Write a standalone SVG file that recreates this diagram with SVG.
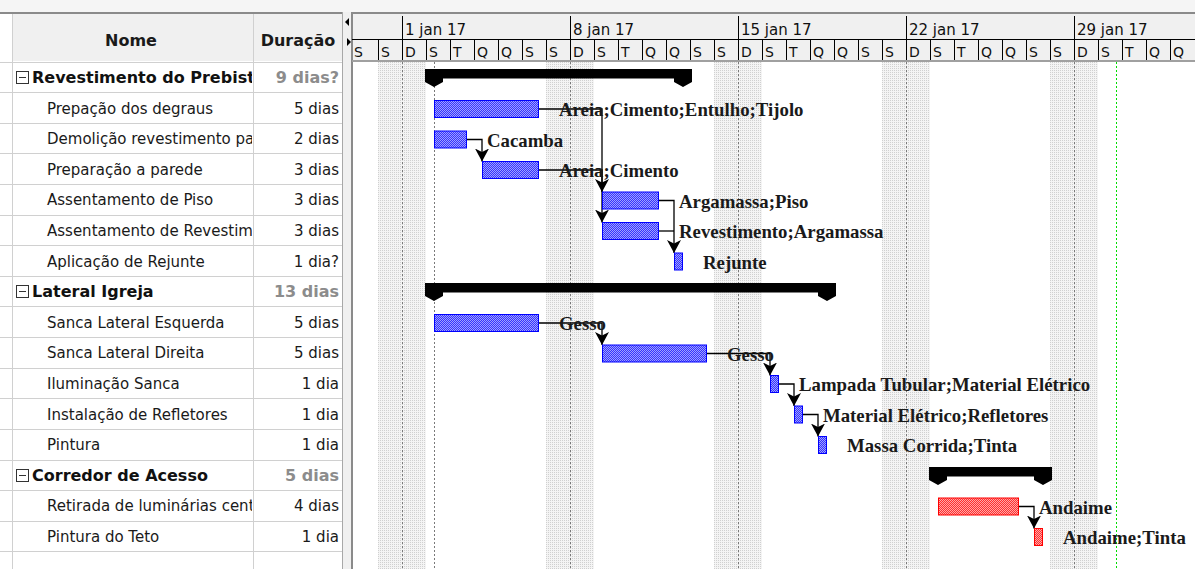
<svg xmlns="http://www.w3.org/2000/svg" width="1195" height="569" viewBox="0 0 1195 569">
  <style>
    .grid { stroke: #d0d0d0; stroke-width: 1; fill: none; }
    .hdr { fill: #f0f0f0; }
    .th { font-family: "DejaVu Sans", Verdana, sans-serif; font-weight: bold; font-size: 16px; fill: #1a1a1a; text-anchor: middle; }
    .nm { font-family: "DejaVu Sans", Verdana, sans-serif; font-size: 15px; fill: #1a1a1a; }
    .sm { font-family: "DejaVu Sans", Verdana, sans-serif; font-size: 16px; font-weight: bold; fill: #111; }
    .du { font-family: "DejaVu Sans", Verdana, sans-serif; font-size: 15px; fill: #1a1a1a; text-anchor: end; }
    .dus { font-family: "DejaVu Sans", Verdana, sans-serif; font-size: 16px; font-weight: bold; fill: #8c8c8c; text-anchor: end; }
    .wk { font-family: "DejaVu Sans", Verdana, sans-serif; font-size: 15px; fill: #111; }
    .dy { font-family: "DejaVu Sans", Verdana, sans-serif; font-size: 14px; fill: #111; }
    .lbl { font-family: "Liberation Serif", "Times New Roman", serif; font-weight: bold; font-size: 18.8px; fill: #1a1a1a; }
    .task { fill: url(#blueHatch); stroke: #0000ff; stroke-width: 1; }
    .task-red { fill: url(#redHatch); stroke: #ff0000; stroke-width: 1; }
    .summary { fill: #000; }
    .link { fill: none; stroke: #000; stroke-width: 1.3; }
    .arrow { marker-end: url(#arrowDown); }
    .box { fill: #fff; stroke: #333; stroke-width: 1; }
  </style>
  <defs>
    <pattern id="blueHatch" width="2" height="2" patternUnits="userSpaceOnUse">
      <rect width="2" height="2" fill="#3434ff"/>
      <rect width="1" height="1" fill="#a0a0ff"/>
      <rect x="1" y="1" width="1" height="1" fill="#a0a0ff"/>
    </pattern>
    <pattern id="redHatch" width="2" height="2" patternUnits="userSpaceOnUse">
      <rect width="2" height="2" fill="#ff3030"/>
      <rect width="1" height="1" fill="#ffa8a8"/>
      <rect x="1" y="1" width="1" height="1" fill="#ffa8a8"/>
    </pattern>
    <pattern id="weekend" width="2" height="2" patternUnits="userSpaceOnUse">
      <rect width="2" height="2" fill="#f4f4f4"/>
      <rect width="1" height="1" fill="#d0d0d0"/>
    </pattern>
    <marker id="arrowDown" viewBox="0 0 13 14" refX="13" refY="7" markerWidth="13" markerHeight="14" markerUnits="userSpaceOnUse" orient="auto">
      <path d="M0,0 L13,7 L0,14 L3.5,7 Z" fill="#000"/>
    </marker>
    <clipPath id="nameCol">
      <rect x="12" y="62" width="240" height="507"/>
    </clipPath>
  </defs>

  <!-- background -->
  <rect width="1195" height="569" fill="#ffffff"/>
  <rect width="1195" height="12" fill="#f5f5f5"/>

  <!-- ===== task table ===== -->
  <g id="table">
    <rect class="hdr" x="12" y="14" width="331" height="47"/>
    <rect x="0" y="12" width="343" height="2" fill="#8a8a8a"/>
    <path class="grid" d="M0,62.5 H343 M0,92.5 H343 M0,123.5 H343 M0,153.5 H343 M0,184.5 H343 M0,215.5 H343 M0,245.5 H343 M0,276.5 H343 M0,306.5 H343 M0,337.5 H343 M0,368.5 H343 M0,398.5 H343 M0,429.5 H343 M0,460.5 H343 M0,490.5 H343 M0,521.5 H343 M0,551.5 H343"/>
    <path class="grid" d="M12.5,14 V569 M253.5,14 V569" stroke="#c4c4c4"/>
    <rect x="342" y="12" width="10" height="557" fill="#f0f0f0"/>
    <path d="M342.5,12 V569" stroke="#a8a8a8" stroke-width="1"/>
    <polygon points="349,18 345,22 349,26" fill="#000"/>
    <polygon points="347,38 351,42 347,46" fill="#000"/>
    <text class="th" x="131" y="46">Nome</text>
    <text class="th" x="298" y="46">Duração</text>
  </g>

  <!-- summary rows -->
  <g id="row-revestimento">
    <rect class="box" x="16.5" y="71.5" width="12" height="12"/>
    <path d="M19,77.5 H26" stroke="#333"/>
    <text class="sm" x="32" y="83" clip-path="url(#nameCol)">Revestimento do Prebist</text>
    <text class="dus" x="339" y="83">9 dias?</text>
  </g>
  <g id="row-lateral">
    <rect class="box" x="16.5" y="285.5" width="12" height="12"/>
    <path d="M19,291.5 H26" stroke="#333"/>
    <text class="sm" x="32" y="297">Lateral Igreja</text>
    <text class="dus" x="339" y="297">13 dias</text>
  </g>
  <g id="row-corredor">
    <rect class="box" x="16.5" y="469.5" width="12" height="12"/>
    <path d="M19,475.5 H26" stroke="#333"/>
    <text class="sm" x="32" y="481">Corredor de Acesso</text>
    <text class="dus" x="339" y="481">5 dias</text>
  </g>

  <!-- task rows -->
  <g id="rows" clip-path="url(#nameCol)">
    <text class="nm" x="47" y="113.5">Prepação dos degraus</text>
    <text class="nm" x="47" y="144">Demolição revestimento pa</text>
    <text class="nm" x="47" y="174.5">Preparação a parede</text>
    <text class="nm" x="47" y="205">Assentamento de Piso</text>
    <text class="nm" x="47" y="236">Assentamento de Revestim</text>
    <text class="nm" x="47" y="266.5">Aplicação de Rejunte</text>
    <text class="nm" x="47" y="327.5">Sanca Lateral Esquerda</text>
    <text class="nm" x="47" y="358">Sanca Lateral Direita</text>
    <text class="nm" x="47" y="389">Iluminação Sanca</text>
    <text class="nm" x="47" y="419.5">Instalação de Refletores</text>
    <text class="nm" x="47" y="450">Pintura</text>
    <text class="nm" x="47" y="511">Retirada de luminárias cent</text>
    <text class="nm" x="47" y="542">Pintura do Teto</text>
  </g>
  <g id="durations">
    <text class="du" x="339" y="113.5">5 dias</text>
    <text class="du" x="339" y="144">2 dias</text>
    <text class="du" x="339" y="174.5">3 dias</text>
    <text class="du" x="339" y="205">3 dias</text>
    <text class="du" x="339" y="236">3 dias</text>
    <text class="du" x="339" y="266.5">1 dia?</text>
    <text class="du" x="339" y="327.5">5 dias</text>
    <text class="du" x="339" y="358">5 dias</text>
    <text class="du" x="339" y="389">1 dia</text>
    <text class="du" x="339" y="419.5">1 dia</text>
    <text class="du" x="339" y="450">1 dia</text>
    <text class="du" x="339" y="511">4 dias</text>
    <text class="du" x="339" y="542">1 dia</text>
  </g>

  <!-- ===== timescale ===== -->
  <g id="timescale">
    <rect class="hdr" x="352" y="14" width="843" height="47"/>
    <rect x="352" y="12" width="843" height="2" fill="#8a8a8a"/>
    <rect x="351" y="12" width="2" height="557" fill="#8a8a8a"/>
    <path d="M352,39.5 H1195" stroke="#000" stroke-width="1"/>
    <path d="M402.5,16 V61 M570.5,16 V61 M738.5,16 V61 M906.5,16 V61 M1074.5,16 V61" stroke="#000" stroke-width="1"/>
    <path d="M378.5,39 V61 M426.5,39 V61 M450.5,39 V61 M474.5,39 V61 M498.5,39 V61 M522.5,39 V61 M546.5,39 V61 M594.5,39 V61 M618.5,39 V61 M642.5,39 V61 M666.5,39 V61 M690.5,39 V61 M714.5,39 V61 M762.5,39 V61 M786.5,39 V61 M810.5,39 V61 M834.5,39 V61 M858.5,39 V61 M882.5,39 V61 M930.5,39 V61 M954.5,39 V61 M978.5,39 V61 M1002.5,39 V61 M1026.5,39 V61 M1050.5,39 V61 M1098.5,39 V61 M1122.5,39 V61 M1146.5,39 V61 M1170.5,39 V61" stroke="#000" stroke-width="1"/>
    <rect x="352" y="60" width="843" height="2" fill="#a0a0a0"/>
    <text class="wk" x="405" y="35">1 jan 17</text>
    <text class="wk" x="573" y="35">8 jan 17</text>
    <text class="wk" x="741" y="35">15 jan 17</text>
    <text class="wk" x="909" y="35">22 jan 17</text>
    <text class="wk" x="1077" y="35">29 jan 17</text>
    <g class="dy">
      <text x="354" y="57">S</text><text x="381" y="57">S</text>
      <text x="405" y="57">D</text><text x="429" y="57">S</text><text x="453" y="57">T</text><text x="477" y="57">Q</text><text x="501" y="57">Q</text><text x="525" y="57">S</text><text x="549" y="57">S</text>
      <text x="573" y="57">D</text><text x="597" y="57">S</text><text x="621" y="57">T</text><text x="645" y="57">Q</text><text x="669" y="57">Q</text><text x="693" y="57">S</text><text x="717" y="57">S</text>
      <text x="741" y="57">D</text><text x="765" y="57">S</text><text x="789" y="57">T</text><text x="813" y="57">Q</text><text x="837" y="57">Q</text><text x="861" y="57">S</text><text x="885" y="57">S</text>
      <text x="909" y="57">D</text><text x="933" y="57">S</text><text x="957" y="57">T</text><text x="981" y="57">Q</text><text x="1005" y="57">Q</text><text x="1029" y="57">S</text><text x="1053" y="57">S</text>
      <text x="1077" y="57">D</text><text x="1101" y="57">S</text><text x="1125" y="57">T</text><text x="1149" y="57">Q</text><text x="1173" y="57">Q</text>
    </g>
  </g>

  <!-- non-working days and gridlines -->
  <g id="calendar">
    <rect x="378" y="62" width="48" height="507" fill="url(#weekend)"/>
    <rect x="546" y="62" width="48" height="507" fill="url(#weekend)"/>
    <rect x="714" y="62" width="48" height="507" fill="url(#weekend)"/>
    <rect x="882" y="62" width="48" height="507" fill="url(#weekend)"/>
    <rect x="1050" y="62" width="48" height="507" fill="url(#weekend)"/>
    <path d="M402.5,62 V569 M434.5,62 V569 M570.5,62 V569 M738.5,62 V569 M906.5,62 V569 M1074.5,62 V569" stroke="#7a7a7a" stroke-width="1" stroke-dasharray="2 2"/>
    <path d="M1116.5,62 V569" stroke="#00dd00" stroke-width="1" stroke-dasharray="2 2"/>
  </g>

  <!-- ===== dependency links ===== -->
  <g id="connectors">
    <path class="link arrow" d="M539,109 H602 V192"/>
    <path class="link arrow" d="M539,170 H602 V222.5"/>
    <path class="link arrow" d="M467,139.5 H482 V161.5"/>
    <path class="link arrow" d="M659,200.5 H674 V253"/>
    <path class="link" d="M659,231 H674"/>
    <path class="link arrow" d="M539,323 H602 V345"/>
    <path class="link arrow" d="M707,353.5 H770 V375.5"/>
    <path class="link arrow" d="M779,384 H794 V406"/>
    <path class="link arrow" d="M803,414.5 H818 V436.5"/>
    <path class="link arrow" d="M1019,506.5 H1034 V528.5"/>
  </g>

  <!-- ===== bars ===== -->
  <g id="bar-revestimento">
    <path class="summary" d="M425,69 H692 V82 L683,87 L674,82 V78.5 H443 V82 L434,87 L425,82 Z"/>
  </g>
  <g id="bar-prepacao">
    <rect class="task" x="434.5" y="100.5" width="104" height="17"/>
    <text class="lbl" x="559" y="116">Areia;Cimento;Entulho;Tijolo</text>
  </g>
  <g id="bar-demolicao">
    <rect class="task" x="434.5" y="131" width="32" height="17"/>
    <text class="lbl" x="487" y="146.5">Cacamba</text>
  </g>
  <g id="bar-preparacao">
    <rect class="task" x="482.5" y="161.5" width="56" height="17"/>
    <text class="lbl" x="559" y="177">Areia;Cimento</text>
  </g>
  <g id="bar-piso">
    <rect class="task" x="602.5" y="192" width="56" height="17"/>
    <text class="lbl" x="679" y="207.5">Argamassa;Piso</text>
  </g>
  <g id="bar-revestim">
    <rect class="task" x="602.5" y="222.5" width="56" height="17"/>
    <text class="lbl" x="679" y="238">Revestimento;Argamassa</text>
  </g>
  <g id="bar-rejunte">
    <rect class="task" x="674.5" y="253" width="8" height="17"/>
    <text class="lbl" x="703" y="268.5">Rejunte</text>
  </g>

  <g id="bar-lateral">
    <path class="summary" d="M425,283 H836 V296 L827,301 L818,296 V292.5 H443 V296 L434,301 L425,296 Z"/>
  </g>
  <g id="bar-sanca-esq">
    <rect class="task" x="434.5" y="314.5" width="104" height="17"/>
    <text class="lbl" x="559" y="330">Gesso</text>
  </g>
  <g id="bar-sanca-dir">
    <rect class="task" x="602.5" y="345" width="104" height="17"/>
    <text class="lbl" x="727" y="360.5">Gesso</text>
  </g>
  <g id="bar-iluminacao">
    <rect class="task" x="770.5" y="375.5" width="8" height="17"/>
    <text class="lbl" x="799" y="391">Lampada Tubular;Material Elétrico</text>
  </g>
  <g id="bar-refletores">
    <rect class="task" x="794.5" y="406" width="8" height="17"/>
    <text class="lbl" x="823" y="421.5">Material Elétrico;Refletores</text>
  </g>
  <g id="bar-pintura">
    <rect class="task" x="818.5" y="436.5" width="8" height="17"/>
    <text class="lbl" x="847" y="452">Massa Corrida;Tinta</text>
  </g>

  <g id="bar-corredor">
    <path class="summary" d="M929,467 H1052 V480 L1043,485 L1034,480 V476.5 H947 V480 L938,485 L929,480 Z"/>
  </g>
  <g id="bar-retirada">
    <rect class="task-red" x="938.5" y="498" width="80" height="17"/>
    <text class="lbl" x="1039" y="513.5">Andaime</text>
  </g>
  <g id="bar-pintura-teto">
    <rect class="task-red" x="1034.5" y="528.5" width="8" height="17"/>
    <text class="lbl" x="1063" y="544">Andaime;Tinta</text>
  </g>
</svg>
